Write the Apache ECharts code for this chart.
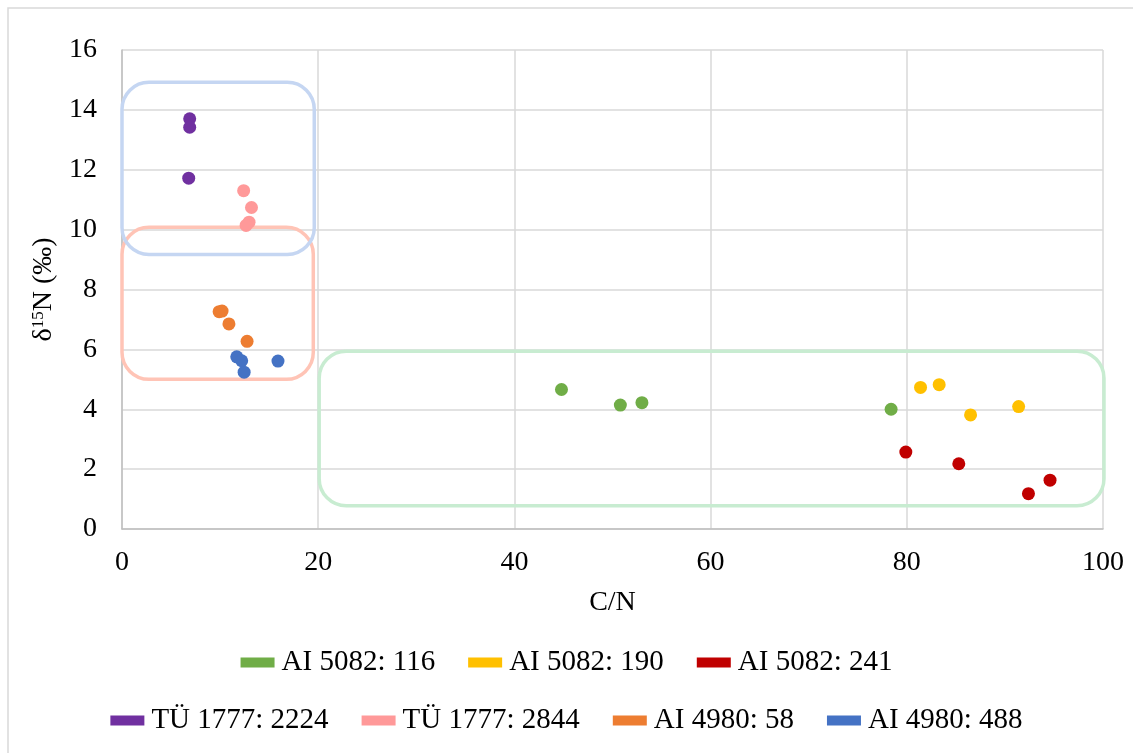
<!DOCTYPE html>
<html>
<head>
<meta charset="utf-8">
<script src="https://cdn.jsdelivr.net/npm/echarts@6/dist/echarts.min.js"></script>
<style>
  html, body { margin: 0; padding: 0; background: #fff; }
  #chart { width: 1133px; height: 753px; }
</style>
</head>
<body>
<div id="chart"></div>
<script>
/** C/N vs δ15N scatter */
var seriesNames = ['AI 5082: 116', 'AI 5082: 190', 'AI 5082: 241',
                   'TÜ 1777: 2224', 'TÜ 1777: 2844', 'AI 4980: 58', 'AI 4980: 488'];
var seriesColors = ['#70ad47', '#ffc000', '#c00000', '#7030a0', '#ff9999', '#ed7d31', '#4472c4'];

// [C/N, δ15N]
var ai5082_116 = [[44.8, 4.66], [50.8, 4.14], [53.0, 4.22], [78.4, 4.0]];
var ai5082_190 = [[81.4, 4.73], [83.3, 4.82], [86.5, 3.81], [91.4, 4.09]];
var ai5082_241 = [[79.9, 2.57], [85.3, 2.18], [92.4, 1.18], [94.6, 1.63]];
var tu1777_2224 = [[6.9, 13.7], [6.9, 13.42], [6.8, 11.72]];
var tu1777_2844 = [[12.4, 11.3], [13.2, 10.74], [12.95, 10.25], [12.65, 10.14]];
var ai4980_58 = [[9.9, 7.26], [10.2, 7.28], [10.9, 6.85], [12.75, 6.27]];
var ai4980_488 = [[11.7, 5.75], [12.2, 5.62], [12.45, 5.24], [15.9, 5.61]];
var seriesData = [ai5082_116, ai5082_190, ai5082_241, tu1777_2224, tu1777_2844, ai4980_58, ai4980_488];

// rounded boxes around groups, in data units: [xMin, yMin, xMax, yMax]
var boxes = [
    {range: [0, 5.0, 19.5, 10.08], color: '#ffc4b6'},
    {range: [0, 9.17, 19.6, 14.92], color: '#c5d6f2'},
    {range: [20.1, 0.78, 100.1, 5.94], color: '#c8ecd1'}
];

var font = 'Liberation Serif, Times New Roman, serif';

var chart = echarts.init(document.getElementById('chart'));
var series = [];
for (var i = 0; i < seriesNames.length; i++) {
    series.push({
        name: seriesNames[i],
        type: 'scatter',
        symbolSize: 13,
        itemStyle: {color: seriesColors[i], opacity: 1},
        data: seriesData[i],
        z: 5
    });
}

var legendText = {fontFamily: font, fontSize: 29, color: '#000', padding: [0, 0, 0, 2]};

chart.setOption({
    animation: false,
    backgroundColor: '#fff',
    grid: {left: 122, right: 30, top: 50, bottom: 224},
    legend: [{
        data: seriesNames.slice(0, 3),
        left: 'center',
        top: 643,
        itemWidth: 34,
        itemHeight: 10,
        itemGap: 33,
        icon: 'rect',
        textStyle: legendText
    }, {
        data: seriesNames.slice(3),
        left: 'center',
        top: 701,
        itemWidth: 34,
        itemHeight: 10,
        itemGap: 33,
        icon: 'rect',
        textStyle: legendText
    }],
    xAxis: {
        type: 'value',
        min: 0,
        max: 100,
        interval: 20,
        name: 'C/N',
        nameLocation: 'middle',
        nameGap: 60,
        nameTextStyle: {fontFamily: font, fontSize: 28, color: '#000'},
        axisLine: {lineStyle: {color: '#bfbfbf', width: 1.5}},
        axisTick: {show: false},
        axisLabel: {fontFamily: font, fontSize: 28, color: '#000', margin: 20},
        splitLine: {lineStyle: {color: '#d9d9d9', width: 1.5}}
    },
    yAxis: {
        type: 'value',
        min: 0,
        max: 16,
        interval: 2,
        name: '{a|δ}{b|15}{a|N (‰)}',
        nameLocation: 'middle',
        nameRotate: 90,
        nameGap: 64,
        nameTextStyle: {
            fontFamily: font, fontSize: 28, color: '#000',
            rich: {
                a: {fontFamily: font, fontSize: 28, color: '#000'},
                b: {fontFamily: font, fontSize: 17, color: '#000', verticalAlign: 'top'}
            }
        },
        axisLine: {show: true, lineStyle: {color: '#bfbfbf', width: 1.5}},
        axisTick: {show: false},
        axisLabel: {fontFamily: font, fontSize: 28, color: '#000', margin: 25},
        splitLine: {lineStyle: {color: '#d9d9d9', width: 1.5}}
    },
    series: series
});

// outer frame + group boxes, placed via the chart's own scales
var graphics = [{
    type: 'rect',
    shape: {x: 8, y: 8, width: 1140, height: 760},
    style: {fill: null, stroke: '#d9d9d9', lineWidth: 1.5},
    silent: true,
    z: 0
}];
boxes.forEach(function (b) {
    var p1 = chart.convertToPixel({gridIndex: 0}, [b.range[0], b.range[3]]);
    var p2 = chart.convertToPixel({gridIndex: 0}, [b.range[2], b.range[1]]);
    graphics.push({
        type: 'rect',
        shape: {x: p1[0], y: p1[1], width: p2[0] - p1[0], height: p2[1] - p1[1], r: 27},
        style: {fill: null, stroke: b.color, lineWidth: 3.5},
        silent: true,
        z: 3
    });
});
chart.setOption({graphic: graphics});
</script>
</body>
</html>
